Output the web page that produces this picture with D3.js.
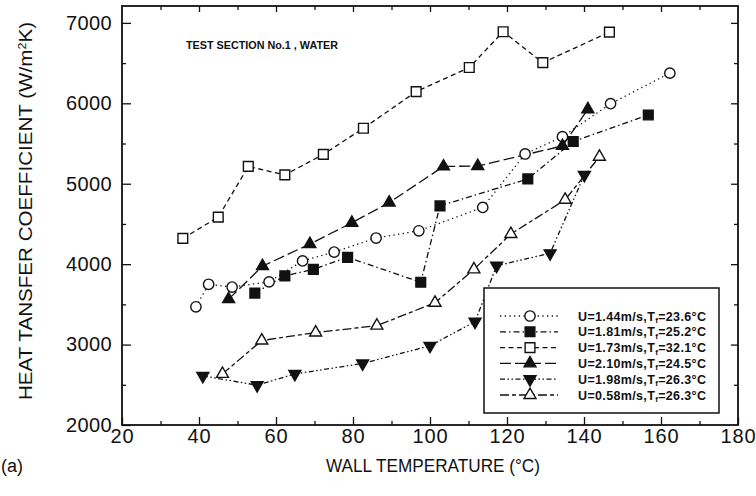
<!DOCTYPE html>
<html>
<head>
<meta charset="utf-8">
<script src="https://cdn.jsdelivr.net/npm/d3@7/dist/d3.min.js"></script>
<style>
  html, body { margin: 0; padding: 0; background: #fff; }
  svg { display: block; }
  text { fill: #111; }
</style>
</head>
<body>
<svg id="chart" width="756" height="496"></svg>
<script>
// Wall temperature (°C) and heat transfer coefficient (W/m²K) per run
const tempU144 = [39.2, 42.5, 48.6, 58.2, 66.9, 75.1, 86.0, 97.1, 113.7, 124.7, 134.4, 146.9, 162.3];
const htcU144  = [3470, 3750, 3715, 3780, 4040, 4150, 4325, 4415, 4705, 5370, 5585, 5995, 6375];

const tempU181 = [54.5, 62.3, 69.7, 78.6, 97.6, 102.6, 125.4, 137.2, 156.7];
const htcU181  = [3640, 3855, 3935, 4085, 3775, 4725, 5060, 5525, 5855];

const tempU173 = [35.8, 45.0, 52.8, 62.3, 72.3, 82.7, 96.4, 110.2, 119.0, 129.3, 146.6];
const htcU173  = [4320, 4585, 5215, 5110, 5365, 5690, 6145, 6445, 6890, 6505, 6885];

const tempU210 = [47.7, 56.5, 68.8, 79.7, 89.4, 103.5, 112.4, 134.4, 141.0];
const htcU210  = [3565, 3975, 4250, 4515, 4765, 5215, 5220, 5470, 5925];

const tempU198 = [41.0, 55.1, 64.9, 82.5, 100.0, 111.7, 117.3, 131.2, 140.1];
const htcU198  = [2610, 2495, 2635, 2765, 2985, 3285, 3980, 4135, 5110];

const tempU058 = [46.1, 56.3, 70.3, 86.2, 101.3, 111.4, 121.0, 135.1, 144.0];
const htcU058  = [2635, 3050, 3150, 3235, 3520, 3935, 4375, 4800, 5335];

// Legend entries: velocity and fluid temperature
const legendU  = ["1.44", "1.81", "1.73", "2.10", "1.98", "0.58"];
const legendTf = ["23.6", "25.2", "32.1", "24.5", "26.3", "26.3"];

const xTicks = [20, 40, 60, 80, 100, 120, 140, 160, 180];
const yTicks = [2000, 3000, 4000, 5000, 6000, 7000];

// Series styling: marker shape, fill, and line dash
const seriesDefs = [
  { t: tempU144, h: htcU144, shape: "circle",  filled: false, dash: "1.3,3.4" },
  { t: tempU181, h: htcU181, shape: "square",  filled: true,  dash: "6,3,1.5,3" },
  { t: tempU173, h: htcU173, shape: "square",  filled: false, dash: "5,3.5" },
  { t: tempU210, h: htcU210, shape: "triUp",   filled: true,  dash: "11,4" },
  { t: tempU198, h: htcU198, shape: "triDown", filled: true,  dash: "5,2.5,1.5,2.5,1.5,2.5" },
  { t: tempU058, h: htcU058, shape: "triUp",   filled: false, dash: "9,3,4,3" }
];

const svg = d3.select("#chart");
const plotL = 122, plotR = 738, plotT = 6, plotB = 425;

const x = d3.scaleLinear().domain([20, 180]).range([plotL, plotR]);
const y = d3.scaleLinear().domain([2000, 7210]).range([plotB, plotT]);

const FONT = "'Liberation Sans', Arial, sans-serif";

// Frame
svg.append("rect")
  .attr("x", plotL).attr("y", plotT)
  .attr("width", plotR - plotL).attr("height", plotB - plotT)
  .attr("fill", "none").attr("stroke", "#111").attr("stroke-width", 1.8);

function styleAxis(g) {
  g.select(".domain").remove();
  g.selectAll(".tick line").attr("stroke", "#111").attr("stroke-width", 1.3);
}

const xMinor = d3.range(30, 180, 20);
const yMinor = d3.range(2500, 7100, 1000);

// Bottom axis, ticks pointing inward
svg.append("g").attr("transform", `translate(0,${plotB})`)
  .call(d3.axisBottom(x).tickValues(xTicks).tickSize(-8).tickPadding(2).tickFormat(d3.format("d")))
  .call(styleAxis)
  .call(g => g.selectAll("text")
    .attr("font-family", FONT).attr("font-size", 20).attr("fill", "#111")
    .attr("dy", "0.71em").attr("y", 4).attr("letter-spacing", 0.8));
svg.append("g").attr("transform", `translate(0,${plotB})`)
  .call(d3.axisBottom(x).tickValues(xMinor).tickSize(-4).tickFormat(""))
  .call(styleAxis);

// Top axis
svg.append("g").attr("transform", `translate(0,${plotT})`)
  .call(d3.axisTop(x).tickValues(xTicks.slice(1, -1)).tickSize(-6).tickFormat(""))
  .call(styleAxis);
svg.append("g").attr("transform", `translate(0,${plotT})`)
  .call(d3.axisTop(x).tickValues(xMinor).tickSize(-4).tickFormat(""))
  .call(styleAxis);

// Left axis
svg.append("g").attr("transform", `translate(${plotL},0)`)
  .call(d3.axisLeft(y).tickValues(yTicks).tickSize(-9).tickPadding(10).tickFormat(d3.format("d")))
  .call(styleAxis)
  .call(g => g.selectAll("text")
    .attr("font-family", FONT).attr("font-size", 20).attr("fill", "#111")
    .attr("x", -10).attr("letter-spacing", 0.4));
svg.append("g").attr("transform", `translate(${plotL},0)`)
  .call(d3.axisLeft(y).tickValues(yMinor).tickSize(-4).tickFormat(""))
  .call(styleAxis);

// Right axis
svg.append("g").attr("transform", `translate(${plotR},0)`)
  .call(d3.axisRight(y).tickValues(yTicks.slice(1)).tickSize(-7).tickFormat(""))
  .call(styleAxis);
svg.append("g").attr("transform", `translate(${plotR},0)`)
  .call(d3.axisRight(y).tickValues(yMinor).tickSize(-4).tickFormat(""))
  .call(styleAxis);

// Axis titles
svg.append("text")
  .attr("x", 433).attr("y", 472)
  .attr("text-anchor", "middle")
  .attr("font-family", FONT).attr("font-size", 18)
  .attr("textLength", 214).attr("lengthAdjust", "spacingAndGlyphs")
  .text("WALL TEMPERATURE (°C)");

svg.append("text")
  .attr("transform", "translate(32,211) rotate(-90)")
  .attr("text-anchor", "middle")
  .attr("font-family", FONT).attr("font-size", 18)
  .attr("textLength", 378).attr("lengthAdjust", "spacingAndGlyphs")
  .html("HEAT TANSFER COEFFICIENT (W/m<tspan dy='-6' font-size='11'>2</tspan><tspan dy='6'>K)</tspan>");

svg.append("text")
  .attr("x", 1).attr("y", 472)
  .attr("font-family", FONT).attr("font-size", 18)
  .text("(a)");

svg.append("text")
  .attr("x", 186).attr("y", 49)
  .attr("font-family", FONT).attr("font-size", 11).attr("font-weight", "bold")
  .attr("textLength", 152).attr("lengthAdjust", "spacingAndGlyphs")
  .text("TEST SECTION No.1 , WATER");

// Marker drawing
function symbolPath(shape) {
  if (shape === "circle") return d3.symbol(d3.symbolCircle, 84)();
  if (shape === "square") return d3.symbol(d3.symbolSquare, 95)();
  return d3.symbol(d3.symbolTriangle, 62)();
}
function drawMarker(g, shape, filled) {
  const p = g.append("path")
    .attr("d", symbolPath(shape))
    .attr("fill", filled ? "#111" : "#fff")
    .attr("stroke", "#111")
    .attr("stroke-width", 1.4);
  if (shape === "triDown") p.attr("transform", "rotate(180)");
  return p;
}

const line = d3.line().x(d => x(d[0])).y(d => y(d[1]));

seriesDefs.forEach(s => {
  const pts = s.t.map((t, i) => [t, s.h[i]]);
  svg.append("path")
    .datum(pts)
    .attr("d", line)
    .attr("fill", "none")
    .attr("stroke", "#111")
    .attr("stroke-width", 1.3)
    .attr("stroke-dasharray", s.dash);
});

seriesDefs.forEach(s => {
  const pts = s.t.map((t, i) => [t, s.h[i]]);
  pts.forEach(p => {
    const g = svg.append("g").attr("transform", `translate(${x(p[0])},${y(p[1])})`);
    drawMarker(g, s.shape, s.filled);
  });
});

// Legend
const lgX = 484, lgY = 288, lgW = 235, lgH = 125;
svg.append("rect")
  .attr("x", lgX).attr("y", lgY).attr("width", lgW).attr("height", lgH)
  .attr("fill", "#fff").attr("stroke", "#111").attr("stroke-width", 1.5);

seriesDefs.forEach((s, i) => {
  const cy = 316 + i * 15.8;
  svg.append("line")
    .attr("x1", 500).attr("x2", 558).attr("y1", cy).attr("y2", cy)
    .attr("stroke", "#111").attr("stroke-width", 1.3)
    .attr("stroke-dasharray", s.dash);
  const g = svg.append("g").attr("transform", `translate(530,${cy})`);
  drawMarker(g, s.shape, s.filled);
  svg.append("text")
    .attr("x", 578).attr("y", cy + 4.5)
    .attr("font-family", FONT).attr("font-size", 12.5).attr("font-weight", "bold")
    .attr("letter-spacing", 0.35)
    .html(`U=${legendU[i]}m/s,T<tspan dy="2.5" font-size="8">f</tspan><tspan dy="-2.5">=${legendTf[i]}°C</tspan>`);
});
</script>
</body>
</html>
